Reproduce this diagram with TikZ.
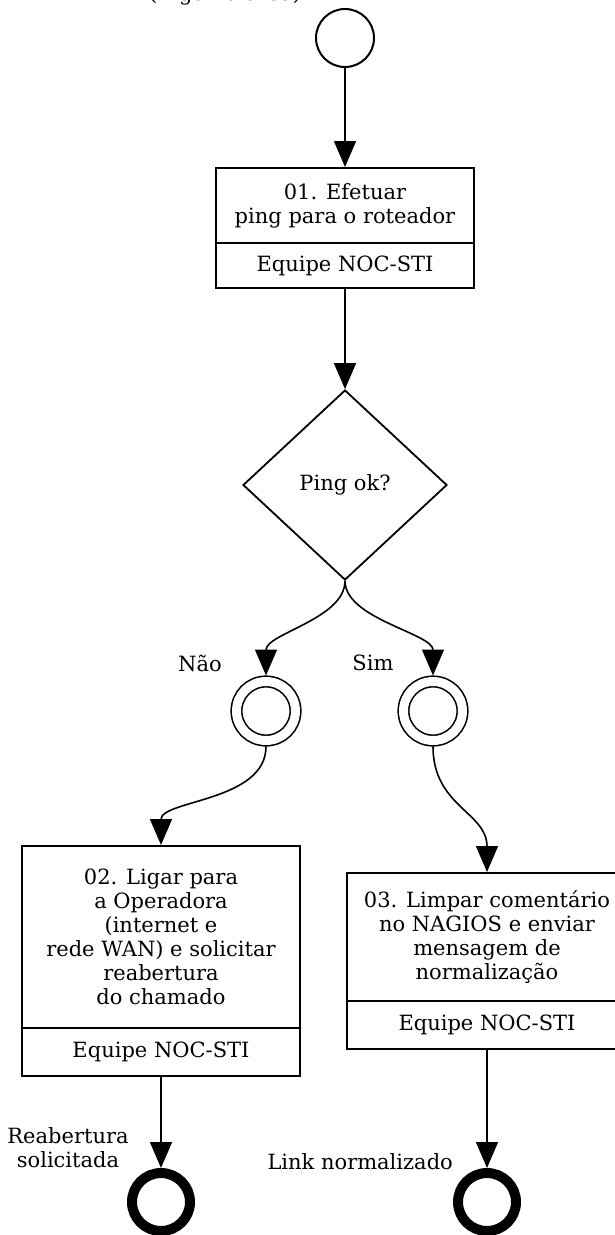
\documentclass[tikz,border=0pt]{standalone}
\usepackage{fontspec}
\setmainfont{DejaVu Serif}
\usetikzlibrary{shapes.geometric,arrows.meta,positioning}
\tikzset{ev/.style = {circle, line width=2pt, minimum size=58pt, inner sep=0pt, draw},
    ie/.style = {circle, line width=1.6pt, double, double distance=9pt, minimum size=59pt, inner sep=0pt, outer sep=6pt, draw},
    ee/.style = {circle, line width=10pt, minimum size=58pt, inner sep=0pt, draw},
    gw/.style = {diamond, line width=1.8pt, minimum width=204pt, minimum height=190pt, inner sep=0pt, draw},
    task/.style = {line width=1.8pt, align=center, inner sep=0pt, anchor=north, draw},
    lbl/.style = {align=center}}

\begin{document}
\begin{tikzpicture}[x=1pt, y=-1pt, line width=1.6pt, font=\fontsize{21}{24}\selectfont,
    >={Triangle[length=26pt, width=22pt]}]
        \useasboundingbox (0,0) rectangle (615,1235);
        % start
        \node[anchor=south] (l0) at (225,9) {(Alguma área)};
        \node[ev] (s) at (345,38) {};

        % tasks
        \node[task, minimum width=258pt, minimum height=75pt] (t1) at (345,167) {01. Efetuar\\ping para o roteador};
        \node[task, minimum width=258pt, minimum height=45pt, below=-1.8pt of t1] (r1) {Equipe NOC-STI};
        \node[task, minimum width=278pt, minimum height=182pt] (t2) at (161,845) {02. Ligar para\\a Operadora\\(internet e\\rede WAN) e solicitar\\reabertura\\do chamado};
        \node[task, minimum width=278pt, minimum height=48pt, below=-1.8pt of t2] (r2) {Equipe NOC-STI};
        \node[task, minimum width=280pt, minimum height=128pt] (t3) at (487,872) {03. Limpar comentário\\no NAGIOS e enviar\\mensagem de\\normalização};
        \node[task, minimum width=280pt, minimum height=48pt, below=-1.8pt of t3] (r3) {Equipe NOC-STI};

        % gateway and events
        \node[gw] (g) at (345,485) {Ping ok?};
        \foreach \n/\x in {no/266, yes/433} \node[ie] (\n) at (\x,711) {};
        \foreach \n/\x in {e2/161, e3/487} \node[ee] (\n) at (\x,1202) {};

        \node (lno) at (200,663) {Não};
        \node (lyes) at (373,663) {Sim};
        \node[lbl] (le2) at (68,1148) {Reabertura\\solicitada};
        \node[anchor=east] (le3) at (457,1162) {Link normalizado};

        \draw[->] (s) -- (t1);
        \draw[->] (r1) -- (g);
        \draw[->] (g.south) .. controls +(0,38) and +(0,-42) .. (no.north);
        \draw[->] (g.south) .. controls +(0,38) and +(0,-42) .. (yes.north);
        \draw[->] (no.south) .. controls +(0,55) and +(0,-45) .. (t2.north);
        \draw[->] (yes.south) .. controls +(0,60) and +(0,-60) .. (t3.north);
        \draw[->] (r2) -- (e2);
        \draw[->] (r3) -- (e3);
    \end{tikzpicture}
\end{document}
